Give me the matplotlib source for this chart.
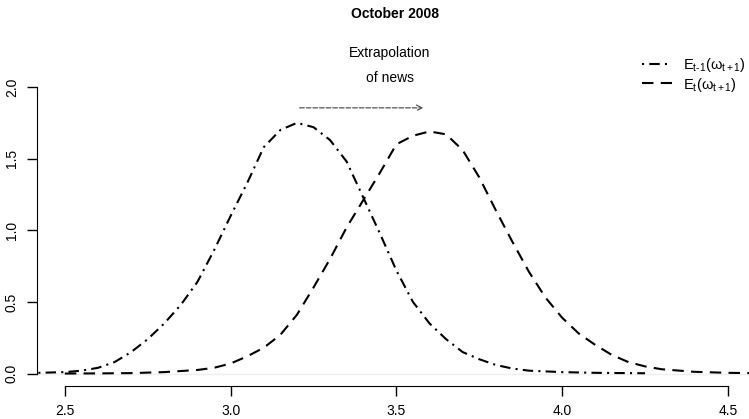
import matplotlib
matplotlib.use('Agg')
import matplotlib.pyplot as plt

plt.rcParams['font.family'] = ['Liberation Sans', 'DejaVu Sans']
plt.rcParams['mathtext.fontset'] = 'custom'
plt.rcParams['mathtext.rm'] = 'Liberation Sans'
plt.rcParams['mathtext.it'] = 'Liberation Sans'

# E_{t-1}(omega_{t+1}) - densidade anterior
x_prev = [2.42, 2.50, 2.55, 2.60, 2.65, 2.70, 2.75, 2.80, 2.85, 2.90, 2.95, 3.00,
          3.05, 3.10, 3.15, 3.20, 3.25, 3.30, 3.35, 3.40, 3.45, 3.50, 3.55, 3.60,
          3.65, 3.70, 3.75, 3.80, 3.85, 3.90, 4.00, 4.10, 4.25]
y_prev = [0.005, 0.01, 0.02, 0.04, 0.08, 0.15, 0.24, 0.35, 0.48, 0.64, 0.86, 1.10,
          1.33, 1.58, 1.70, 1.75, 1.72, 1.63, 1.48, 1.23, 0.98, 0.72, 0.50, 0.35,
          0.24, 0.15, 0.10, 0.06, 0.035, 0.02, 0.01, 0.005, 0.002]

# E_t(omega_{t+1}) - densidade atual
x_now = [2.50, 2.60, 2.70, 2.80, 2.90, 2.95, 3.00, 3.05, 3.10, 3.15, 3.20, 3.25,
         3.30, 3.35, 3.40, 3.45, 3.50, 3.55, 3.60, 3.65, 3.70, 3.75, 3.80, 3.85,
         3.90, 3.95, 4.00, 4.05, 4.10, 4.15, 4.20, 4.25, 4.30, 4.40, 4.50, 4.60]
y_now = [0.0, 0.001, 0.003, 0.01, 0.025, 0.04, 0.07, 0.12, 0.18, 0.27, 0.41, 0.60,
         0.80, 1.02, 1.21, 1.40, 1.60, 1.66, 1.69, 1.67, 1.56, 1.37, 1.14, 0.92,
         0.71, 0.53, 0.39, 0.28, 0.20, 0.13, 0.08, 0.05, 0.03, 0.012, 0.005, 0.002]

x_ticks = [2.5, 3.0, 3.5, 4.0, 4.5]
y_ticks = [0.0, 0.5, 1.0, 1.5, 2.0]

W, H = 749, 419
fig = plt.figure(figsize=(W / 100, H / 100), dpi=100)
ax = fig.add_axes([37 / W, 1 - 385 / H, 1 - 37 / W, (385 - 75.6) / H])
ax.set_xlim(2.416, 2.416 + (W - 37) / 331.5)
ax.set_ylim(-0.08, 2.08)

ax.axhline(0, color='#eeeeee', lw=1, zorder=0)
l1, = ax.plot(x_prev, y_prev, color='black', lw=1.5, linestyle=(0, (1, 2.5, 5, 2.5)))
l2, = ax.plot(x_now, y_now, color='black', lw=1.5, linestyle=(0, (5.5, 3.5)))

ax.annotate('', xy=(3.59, 1.855), xytext=(3.2, 1.855),
            arrowprops=dict(arrowstyle='->', color='#555555', lw=0.9, linestyle='--'))
ax.text(3.48, 2.15, 'Extrapolation\nof news', ha='center', va='center', fontsize=10,
        linespacing=2.0)

for s in ['top', 'right']:
    ax.spines[s].set_visible(False)
ax.spines['left'].set_bounds(0, 2)
ax.spines['bottom'].set_bounds(2.5, 4.5)
ax.spines['bottom'].set_position(('outward', 1))
ax.set_xticks(x_ticks)
ax.set_yticks(y_ticks)
ax.set_xticklabels(['%.1f' % v for v in x_ticks])
ax.set_yticklabels(['%.1f' % v for v in y_ticks], rotation=90, va='center')
ax.tick_params(length=7, width=1, labelsize=10, pad=6)

fig.suptitle('October 2008', fontsize=10, fontweight='bold', y=1 - 14 / H, va='center', x=0.528)

fig.legend([l1, l2], [r'$\mathrm{E_{t\text{-}1}(\omega_{t+1})}$', r'$\mathrm{E_{t}(\omega_{t+1})}$'],
           loc='upper right', bbox_to_anchor=(1.008, 1 - 47 / H), frameon=False,
           fontsize=10.5, handlelength=2.05, handletextpad=0.8, labelspacing=0.12,
           borderpad=0.1)

fig.savefig('out.png', dpi=100)
